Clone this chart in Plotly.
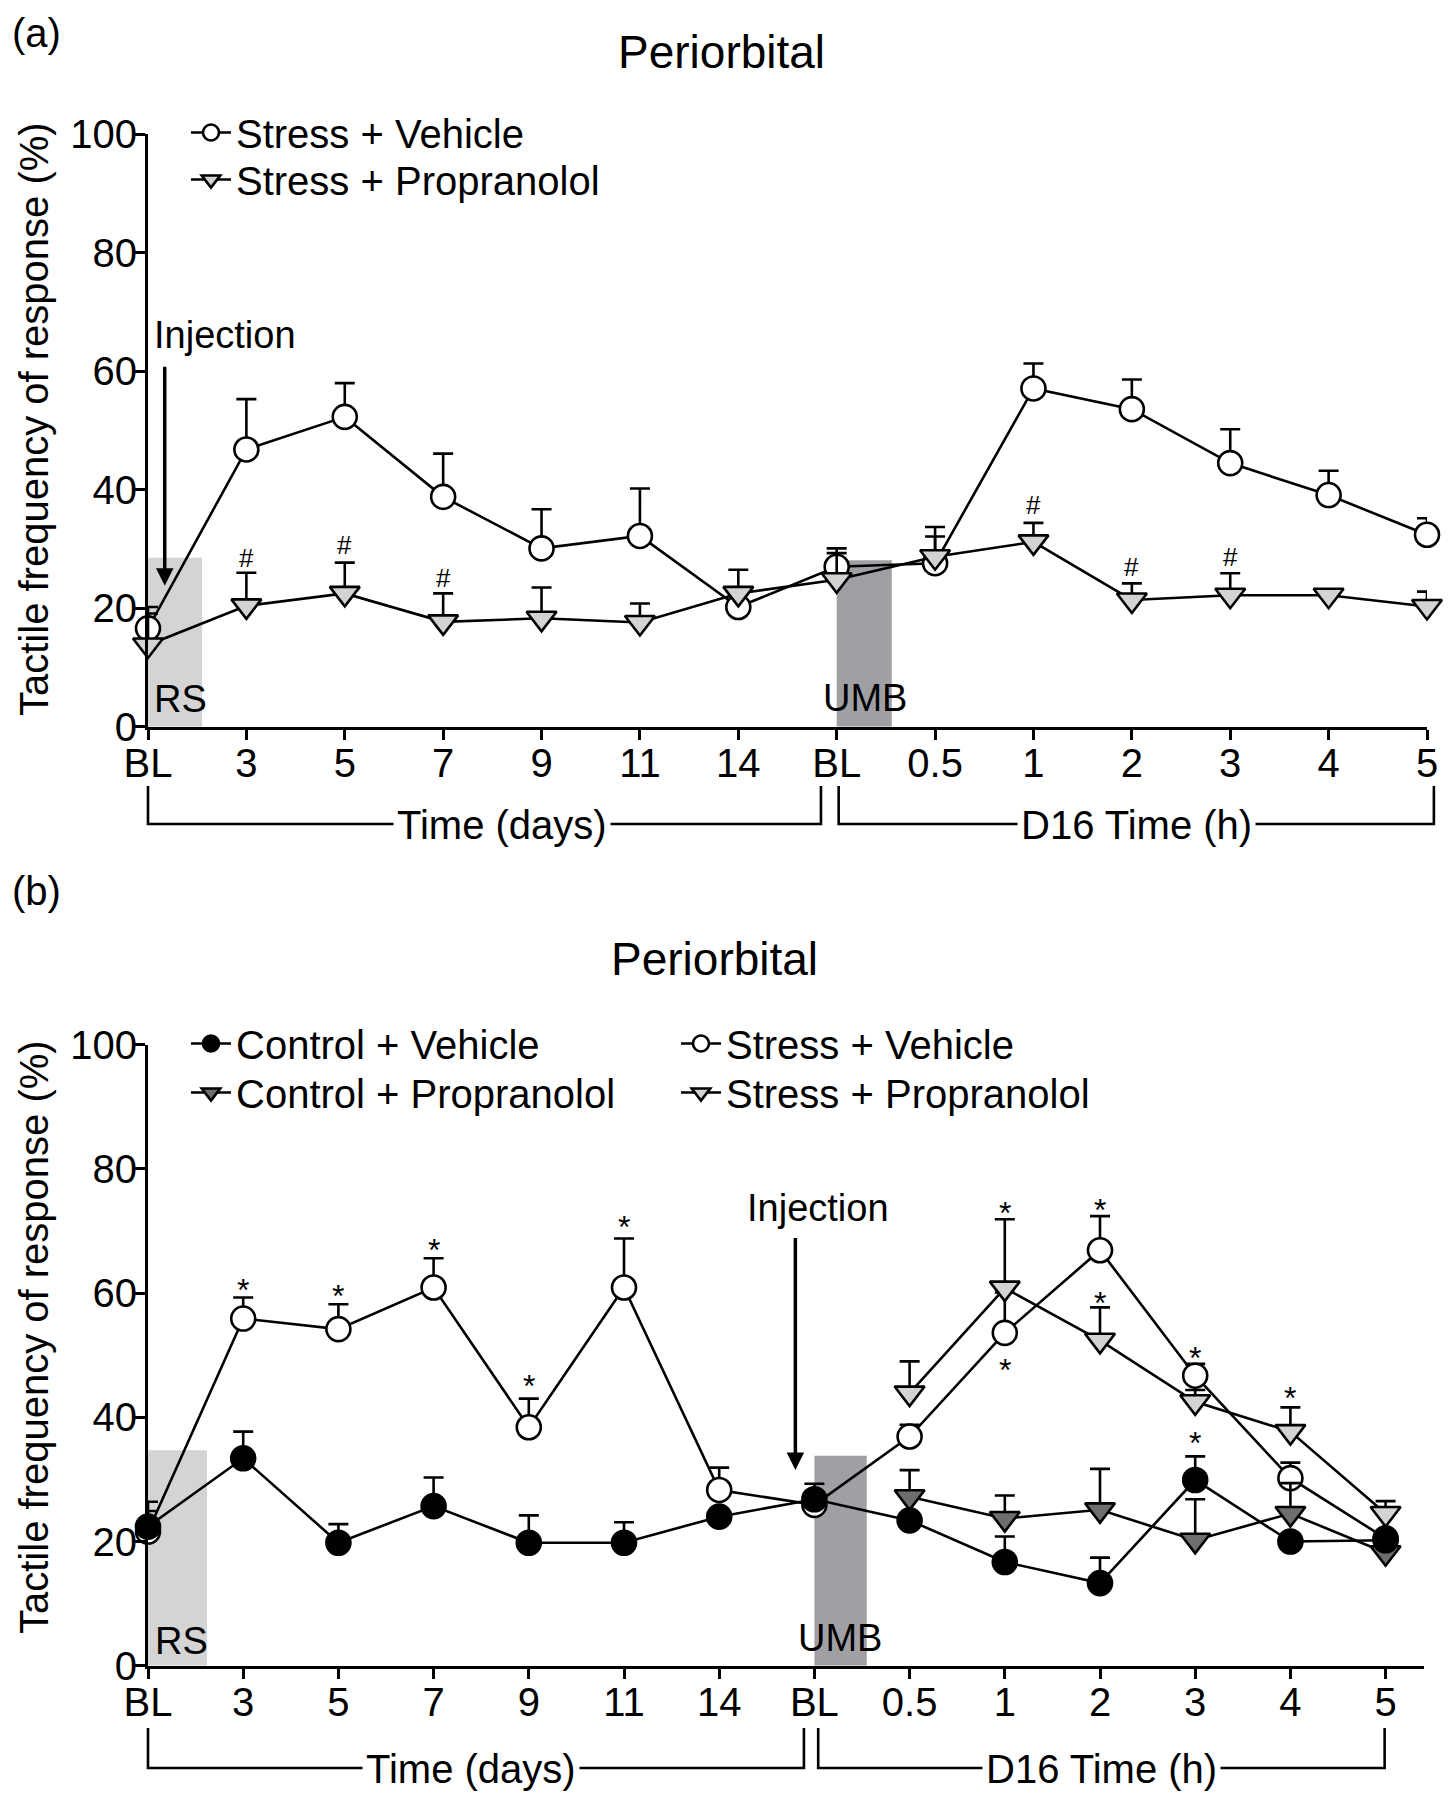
import plotly.graph_objects as go

FONT = "Liberation Sans, Arial, Helvetica, sans-serif"

# ---------------- data ----------------
x_labels = ["BL", "3", "5", "7", "9", "11", "14", "BL", "0.5", "1", "2", "3", "4", "5"]
x_pos = list(range(len(x_labels)))

# Panel (a)
a_stress_vehicle = [16.6, 46.8, 52.3, 38.8, 30.1, 32.2, 20.2, 27.0, 27.6, 57.1, 53.6, 44.5, 39.1, 32.4]
a_stress_vehicle_err = [3.6, 8.5, 5.7, 7.3, 6.6, 8.0, 0, 3.1, 6.1, 4.2, 5.0, 5.7, 4.1, 2.8]
a_stress_prop = [13.8, 20.4, 22.5, 17.7, 18.3, 17.6, 22.5, 24.8, 28.7, 31.2, 21.4, 22.2, 22.2, 20.3]
a_stress_prop_err = [5.3, 5.6, 5.2, 4.8, 5.2, 3.2, 4.0, 4.5, 3.4, 3.2, 2.8, 3.7, 0, 2.5]
a_hash_x = [1, 2, 3, 9, 10, 11]
a_hash_y = [28.5, 30.7, 25.1, 37.4, 27.0, 28.7]

# Panel (b)
b_control_vehicle = [22.4, 33.4, 19.8, 25.7, 19.8, 19.8, 24.0, 26.8, 23.4, 16.7, 13.3, 29.9, 20.0, 20.2]
b_control_vehicle_err = [2.5, 4.3, 3.0, 4.6, 4.4, 3.3, 0, 2.5, 0, 4.1, 4.1, 3.8, 0, 0]
b_stress_vehicle = [21.6, 55.9, 54.2, 60.9, 38.4, 60.9, 28.3, 25.9, 36.9, 53.6, 66.9, 46.7, 30.2, 20.5]
b_stress_vehicle_err = [4.8, 3.4, 4.0, 4.7, 4.6, 7.9, 3.6, 0, 1.9, 6.5, 5.5, 1.9, 2.5, 6.0]
b_post_x = x_pos[8:]
b_control_prop = [27.2, 23.7, 25.1, 20.2, 24.5, 18.2]
b_control_prop_err = [4.3, 3.7, 6.6, 6.6, 4.9, 0]
b_stress_prop = [43.9, 60.8, 52.4, 42.5, 37.7, 24.5]
b_stress_prop_err = [5.1, 11.1, 5.3, 1.9, 3.9, 1.0]
b_star_x = [1, 2, 3, 4, 5, 9, 9, 10, 10, 11, 11, 12]
b_star_y = [61.8, 60.8, 68.3, 46.3, 71.9, 74.2, 48.9, 74.7, 59.7, 50.8, 37.2, 44.4]

y_ticks = [0, 20, 40, 60, 80, 100]

# ---------------- styles ----------------
LW = 2.6
styles = {
    "sv": dict(symbol="circle", size=24, color="white"),
    "sp": dict(symbol="triangle-down", size=26, color="#d3d3d3"),
    "cp": dict(symbol="triangle-down", size=26, color="#6e6e6e"),
    "cv": dict(symbol="circle", size=24, color="black"),
}

fig = go.Figure()


def add(x, y, err, name, key, xa, ya, legend):
    st = styles[key]
    fig.add_trace(go.Scatter(
        x=x, y=y, name=name, mode="lines+markers",
        xaxis=xa, yaxis=ya, legend=legend, showlegend=True,
        line=dict(color="black", width=LW),
        marker=dict(symbol=st["symbol"], size=st["size"], color=st["color"],
                    line=dict(color="black", width=LW)),
        error_y=dict(type="data", symmetric=False, array=err, arrayminus=[0] * len(err),
                     color="black", thickness=LW, width=10),
        cliponaxis=False,
    ))


# panel a
add(x_pos, a_stress_vehicle, a_stress_vehicle_err, "Stress + Vehicle", "sv", "x", "y", "legend")
add(x_pos, a_stress_prop, a_stress_prop_err, "Stress + Propranolol", "sp", "x", "y", "legend2")

# panel b
add(x_pos, b_stress_vehicle, b_stress_vehicle_err, "Stress + Vehicle", "sv", "x2", "y2", "legend5")
add(b_post_x, b_stress_prop, b_stress_prop_err, "Stress + Propranolol", "sp", "x2", "y2", "legend6")
add(b_post_x, b_control_prop, b_control_prop_err, "Control + Propranolol", "cp", "x2", "y2", "legend4")
add(x_pos, b_control_vehicle, b_control_vehicle_err, "Control + Vehicle", "cv", "x2", "y2", "legend3")

# ---------------- layout geometry ----------------
OFF = 8  # page body margin
W, H = 1451 - 2 * OFF, 1800 - 2 * OFF
ML = 148 - OFF
MR = W - (1427 - OFF)
PW = W - ML - MR
XA_RANGE = [0, 13]
XB_RANGE = [0, 13.4]
XB_DOM = [0, 0.9974]


def pxx(px):
    return (px - OFF - ML) / PW


def pyy(py):
    return 1 - (py - OFF) / H


YA_DOM = [pyy(726.7), pyy(134.3)]
YB_DOM = [pyy(1665.7), pyy(1044.7)]


def ia(i):
    return i / XA_RANGE[1]


def ib(i):
    return i / XB_RANGE[1] * XB_DOM[1]


axis_common = dict(showline=True, linecolor="black", linewidth=3, ticks="outside", ticklen=10,
                   tickwidth=3, tickcolor="black", showgrid=False, zeroline=False,
                   tickfont=dict(size=40, color="black", family=FONT))


def leg(xp, yp):
    return dict(x=pxx(xp), y=pyy(yp), xanchor="left", yanchor="top",
                font=dict(size=40, family=FONT), bgcolor="rgba(0,0,0,0)",
                tracegroupgap=0, itemwidth=40, visible=True)


fig.update_layout(
    width=W, height=H, margin=dict(l=ML, r=MR, t=0, b=0, autoexpand=False),
    showlegend=True,
    plot_bgcolor="white", paper_bgcolor="white",
    font=dict(family=FONT, color="black", size=40),
    xaxis=dict(domain=[0, 1], range=XA_RANGE, anchor="y", tickmode="array",
               tickvals=x_pos, ticktext=x_labels, ticklabelstandoff=-11, **axis_common),
    yaxis=dict(domain=YA_DOM, range=[0, 100], anchor="x", tickmode="array",
               tickvals=y_ticks, ticklabelstandoff=-10, **axis_common),
    xaxis2=dict(domain=XB_DOM, range=XB_RANGE, anchor="y2", tickmode="array",
                tickvals=x_pos, ticktext=x_labels, ticklabelstandoff=-11, **axis_common),
    yaxis2=dict(domain=YB_DOM, range=[0, 100], anchor="x2", tickmode="array",
                tickvals=y_ticks, ticklabelstandoff=-10, **axis_common),
    legend=leg(186, 100),
    legend2=leg(186, 147),
    legend3=leg(186, 1011),
    legend4=leg(186, 1060),
    legend5=leg(676, 1011),
    legend6=leg(676, 1060),
)

shapes = []
# shaded stimulus regions
shapes.append(dict(type="rect", xref="x", yref="y", x0=0, x1=0.55, y0=0, y1=28.5,
                   fillcolor="#d4d4d4", line=dict(width=0), layer="below"))
shapes.append(dict(type="rect", xref="x", yref="y", x0=7, x1=7.56, y0=0, y1=28.1,
                   fillcolor="#a0a0a4", line=dict(width=0), layer="below"))
shapes.append(dict(type="rect", xref="x2", yref="y2", x0=0, x1=0.62, y0=0, y1=34.7,
                   fillcolor="#d4d4d4", line=dict(width=0), layer="below"))
shapes.append(dict(type="rect", xref="x2", yref="y2", x0=7, x1=7.55, y0=0, y1=33.8,
                   fillcolor="#a0a0a4", line=dict(width=0), layer="below"))


def bracket(x0, x1, ytop, ybot):
    return dict(type="path", xref="paper", yref="paper",
                path=f"M {x0},{ytop} L {x0},{ybot} L {x1},{ybot} L {x1},{ytop}",
                line=dict(color="black", width=2.6))


# brackets panel a
shapes.append(bracket(ia(0), ia(6.84), pyy(786), pyy(824)))
shapes.append(bracket(ia(7.02), ia(13.07), pyy(786), pyy(824)))
# brackets panel b
shapes.append(bracket(ib(0), ib(6.89), pyy(1728), pyy(1768)))
shapes.append(bracket(ib(7.04), ib(12.99), pyy(1728), pyy(1768)))
fig.update_layout(shapes=shapes)

ann = []


def text(x, y, t, size=40, xref="paper", yref="paper", **kw):
    d = dict(x=x, y=y, text=t, xref=xref, yref=yref, showarrow=False,
             xanchor="center", yanchor="middle",
             font=dict(size=size, family=FONT, color="black"))
    d.update(kw)
    ann.append(d)


# panel labels and titles
text(pxx(10), pyy(9), "(a)", 40, xanchor="left", yanchor="top")
text(pxx(10), pyy(891), "(b)", 40, xanchor="left")
text(pxx(721), pyy(52), "Periorbital", 46)
text(pxx(714), pyy(959), "Periorbital", 46)
# y-axis titles
text(pxx(34), pyy(419), "Tactile frequency of response (%)", 40, textangle=-90)
text(pxx(34), pyy(1337), "Tactile frequency of response (%)", 40, textangle=-90)
# bracket labels
text(ia(3.6), pyy(825), "Time (days)", 40, bgcolor="white", borderpad=3)
text(ia(10.05), pyy(825), "D16 Time (h)", 40, bgcolor="white", borderpad=3)
text(ib(3.39), pyy(1769), "Time (days)", 40, bgcolor="white", borderpad=3)
text(ib(10.02), pyy(1769), "D16 Time (h)", 40, bgcolor="white", borderpad=3)
# region labels
text(0.33, 4.6, "RS", 38, xref="x", yref="y")
text(7.29, 4.8, "UMB", 38, xref="x", yref="y")
text(0.35, 4.0, "RS", 38, xref="x2", yref="y2")
text(7.27, 4.4, "UMB", 38, xref="x2", yref="y2")
# injection labels and arrows
text(0.78, 66.1, "Injection", 38, xref="x", yref="y")
text(7.04, 73.7, "Injection", 38, xref="x2", yref="y2")
ann.append(dict(x=0.17, y=23.8, ax=0.17, ay=61, xref="x", yref="y", axref="x", ayref="y",
                text="", showarrow=True, arrowhead=2, arrowsize=1, arrowwidth=3.5, arrowcolor="black"))
ann.append(dict(x=6.8, y=31.5, ax=6.8, ay=69.1, xref="x2", yref="y2", axref="x2", ayref="y2",
                text="", showarrow=True, arrowhead=2, arrowsize=1, arrowwidth=3.5, arrowcolor="black"))
# significance marks
for xi, yi in zip(a_hash_x, a_hash_y):
    text(xi, yi, "#", 26, xref="x", yref="y")
for xi, yi in zip(b_star_x, b_star_y):
    text(xi, yi, "*", 32, xref="x2", yref="y2", yshift=-8)

fig.update_layout(annotations=ann)

fig.write_html("out.html")
